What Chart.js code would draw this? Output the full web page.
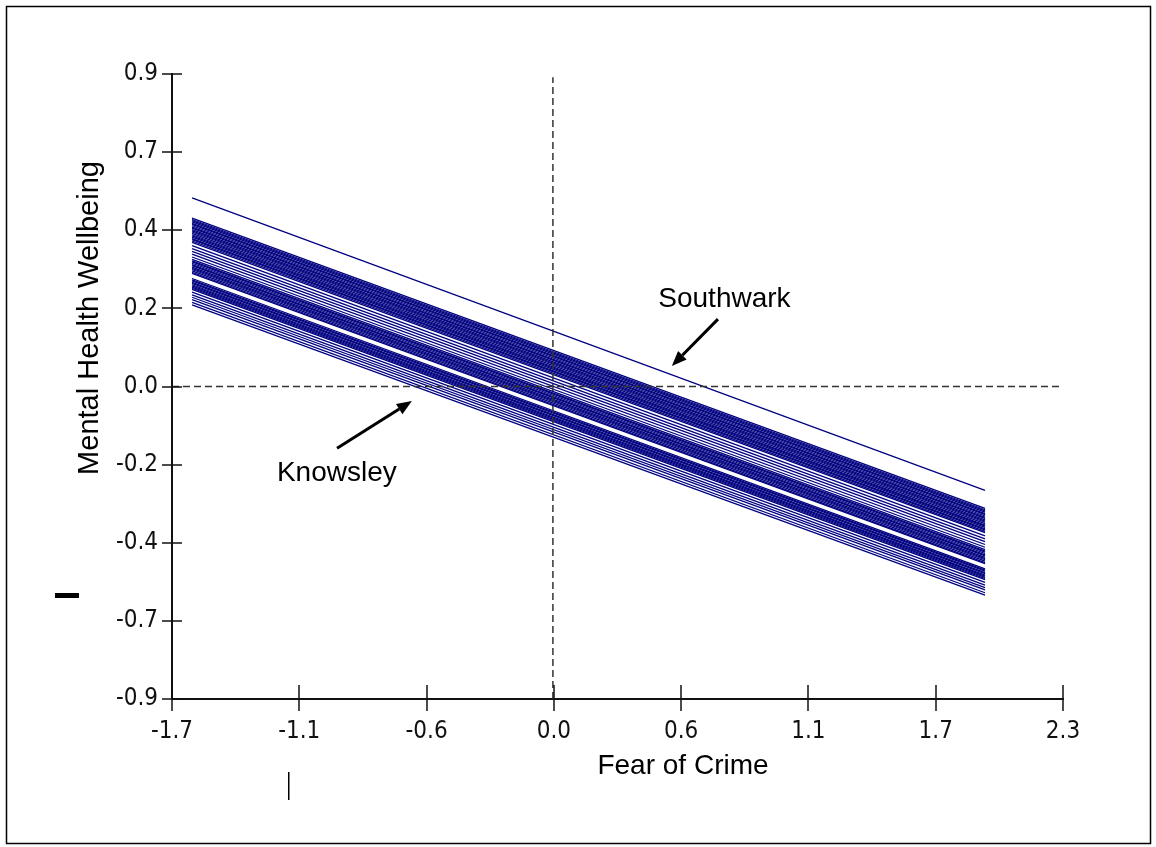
<!DOCTYPE html>
<html>
<head>
<meta charset="utf-8">
<script src="https://cdn.jsdelivr.net/npm/chart.js@4/dist/chart.umd.min.js"></script>
<style>
  html, body { margin: 0; padding: 0; background: #fff; }
  #graph_div { width: 1156px; height: 847px; }
</style>
</head>
<body>
<div id="graph_div"><canvas id="my_chart" width="1156" height="847"></canvas></div>
<script>
// fear of crime where the area lines begin and end
const fear_range = [-1.62, 1.94];

// wellbeing at the left end of each area line (first one is Southwark)
const wellbeing_start = [
  0.543,
  0.485, 0.481, 0.478, 0.474, 0.470, 0.467, 0.463, 0.459, 0.456, 0.452,
  0.448, 0.445, 0.441, 0.437, 0.434, 0.430, 0.426, 0.423, 0.419, 0.415,
  0.406, 0.397, 0.389, 0.381, 0.373,
  0.366, 0.362, 0.359, 0.355, 0.351, 0.348, 0.344, 0.340, 0.337, 0.333, 0.329, 0.326,
  0.311, 0.307, 0.304, 0.300, 0.297, 0.293, 0.290, 0.286, 0.283, 0.280,
  0.272, 0.264, 0.257, 0.250, 0.242, 0.235
];

// wellbeing at the right end of each area line
const wellbeing_end = [
  -0.299,
  -0.351, -0.355, -0.358, -0.362, -0.366, -0.369, -0.373, -0.377, -0.380, -0.384,
  -0.388, -0.391, -0.395, -0.399, -0.402, -0.406, -0.410, -0.413, -0.417, -0.421,
  -0.430, -0.439, -0.447, -0.455, -0.463,
  -0.470, -0.474, -0.477, -0.481, -0.485, -0.488, -0.492, -0.496, -0.499, -0.503, -0.507, -0.510,
  -0.525, -0.529, -0.532, -0.536, -0.539, -0.543, -0.546, -0.550, -0.553, -0.556,
  -0.564, -0.572, -0.579, -0.586, -0.594, -0.601
];

const x_range = [-1.71, 2.29];
const y_range = [-0.9, 0.9];
const x_tick_labels = ['-1.7', '-1.1', '-0.6', '0.0', '0.6', '1.1', '1.7', '2.3'];
const y_tick_labels = ['-0.9', '-0.7', '-0.4', '-0.2', '0.0', '0.2', '0.4', '0.7', '0.9'];

const notes = [
  { text: 'Southwark', at: [0.77, 0.25], from: [0.741, 0.194], to: [0.534, 0.059] },
  { text: 'Knowsley', at: [-0.97, -0.25], from: [-0.969, -0.178], to: [-0.633, -0.042] }
];

const tick_font = '"Liberation Sans Narrow", "DejaVu Sans Condensed", "Arial Narrow", sans-serif';
const text_font = '"Liberation Sans", Arial, sans-serif';

function even_ticks(range, n) {
  const out = [];
  for (let i = 0; i < n; i++) out.push({ value: range[0] + i * (range[1] - range[0]) / (n - 1) });
  return out;
}

function draw_arrow(ctx, x0, y0, x1, y1) {
  const ang = Math.atan2(y1 - y0, x1 - x0);
  const len = 15, half = 6;
  const bx = x1 - len * Math.cos(ang), by = y1 - len * Math.sin(ang);
  ctx.beginPath();
  ctx.moveTo(x0, y0);
  ctx.lineTo(bx, by);
  ctx.stroke();
  ctx.beginPath();
  ctx.moveTo(x1, y1);
  ctx.lineTo(bx + half * Math.sin(ang), by - half * Math.cos(ang));
  ctx.lineTo(bx - half * Math.sin(ang), by + half * Math.cos(ang));
  ctx.closePath();
  ctx.fill();
}

const paper = {
  id: 'paper',
  beforeDraw(chart) {
    const ctx = chart.ctx;
    ctx.save();
    ctx.fillStyle = '#fff';
    ctx.fillRect(0, 0, chart.width, chart.height);
    ctx.restore();
  },
  afterDraw(chart) {
    const ctx = chart.ctx;
    const xs = chart.scales.x, ys = chart.scales.y;
    ctx.save();

    // tick marks that cross the axes
    ctx.strokeStyle = '#111';
    ctx.lineWidth = 1.5;
    xs.ticks.forEach(t => {
      const px = Math.round(xs.getPixelForValue(t.value));
      ctx.beginPath();
      ctx.moveTo(px, ys.bottom - 14);
      ctx.lineTo(px, ys.bottom + 12);
      ctx.stroke();
    });
    ys.ticks.forEach(t => {
      const py = Math.round(ys.getPixelForValue(t.value));
      ctx.beginPath();
      ctx.moveTo(xs.left - 10, py);
      ctx.lineTo(xs.left + 10, py);
      ctx.stroke();
    });

    // labels with arrows
    ctx.fillStyle = '#000';
    ctx.strokeStyle = '#000';
    ctx.lineWidth = 3;
    ctx.font = '28px ' + text_font;
    ctx.textAlign = 'center';
    ctx.textBaseline = 'middle';
    notes.forEach(n => {
      ctx.fillText(n.text, xs.getPixelForValue(n.at[0]), ys.getPixelForValue(n.at[1]));
      draw_arrow(ctx,
        xs.getPixelForValue(n.from[0]), ys.getPixelForValue(n.from[1]),
        xs.getPixelForValue(n.to[0]), ys.getPixelForValue(n.to[1]));
    });

    // axis titles
    ctx.fillText('Fear of Crime', 683, 766);
    ctx.save();
    ctx.font = '29px ' + text_font;
    ctx.translate(90, 318);
    ctx.rotate(-Math.PI / 2);
    ctx.fillText('Mental Health Wellbeing', 0, 0);
    ctx.restore();

    // stray marks left in the original figure
    ctx.fillRect(55, 593, 24, 5);
    ctx.fillRect(288, 772, 1.5, 28);

    // frame round the picture
    ctx.lineWidth = 1.5;
    ctx.strokeRect(6.5, 6.5, chart.width - 12, chart.height - 10);
    ctx.restore();
  }
};

function create_chart() {
  const datasets = [];

  // dashed zero lines
  datasets.push({
    data: [{ x: 0, y: y_range[0] }, { x: 0, y: 0.891 }],
    borderColor: '#333', borderWidth: 1.5, borderDash: [7, 4]
  });
  datasets.push({
    data: [{ x: x_range[0], y: 0 }, { x: 2.277, y: 0 }],
    borderColor: '#333', borderWidth: 1.5, borderDash: [7, 4]
  });

  for (let i = 0; i < wellbeing_start.length; i++) {
    datasets.push({
      data: [{ x: fear_range[0], y: wellbeing_start[i] }, { x: fear_range[1], y: wellbeing_end[i] }],
      borderColor: '#000080',
      borderWidth: 1.3
    });
  }

  const config = {
    type: 'scatter',
    data: { datasets: datasets },
    options: {
      responsive: false,
      animation: false,
      devicePixelRatio: 1,
      showLine: true,
      elements: { point: { radius: 0, hoverRadius: 0 }, line: { tension: 0 } },
      layout: { padding: { left: 0, top: 74, right: 93, bottom: 0 } },
      plugins: { legend: { display: false }, tooltip: { enabled: false } },
      scales: {
        x: {
          type: 'linear',
          min: x_range[0],
          max: x_range[1],
          afterBuildTicks: s => { s.ticks = even_ticks(x_range, x_tick_labels.length); },
          afterFit: s => { s.height = 148; },
          grid: { display: true, drawOnChartArea: false, drawTicks: false },
          border: { display: true, color: '#111', width: 2 },
          ticks: {
            autoSkip: false, maxRotation: 0, padding: 18, color: '#111',
            font: { family: tick_font, size: 24 },
            callback: (v, i) => x_tick_labels[i]
          }
        },
        y: {
          type: 'linear',
          min: y_range[0],
          max: y_range[1],
          afterBuildTicks: s => { s.ticks = even_ticks(y_range, y_tick_labels.length); },
          afterFit: s => { s.width = 172; },
          grid: { display: true, drawOnChartArea: false, drawTicks: false },
          border: { display: true, color: '#111', width: 2 },
          ticks: {
            autoSkip: false, padding: 14, color: '#111',
            font: { family: tick_font, size: 24 },
            callback: (v, i) => y_tick_labels[i]
          }
        }
      }
    },
    plugins: [paper]
  };

  new Chart(document.getElementById('my_chart').getContext('2d'), config);
}

create_chart();
</script>
</body>
</html>
